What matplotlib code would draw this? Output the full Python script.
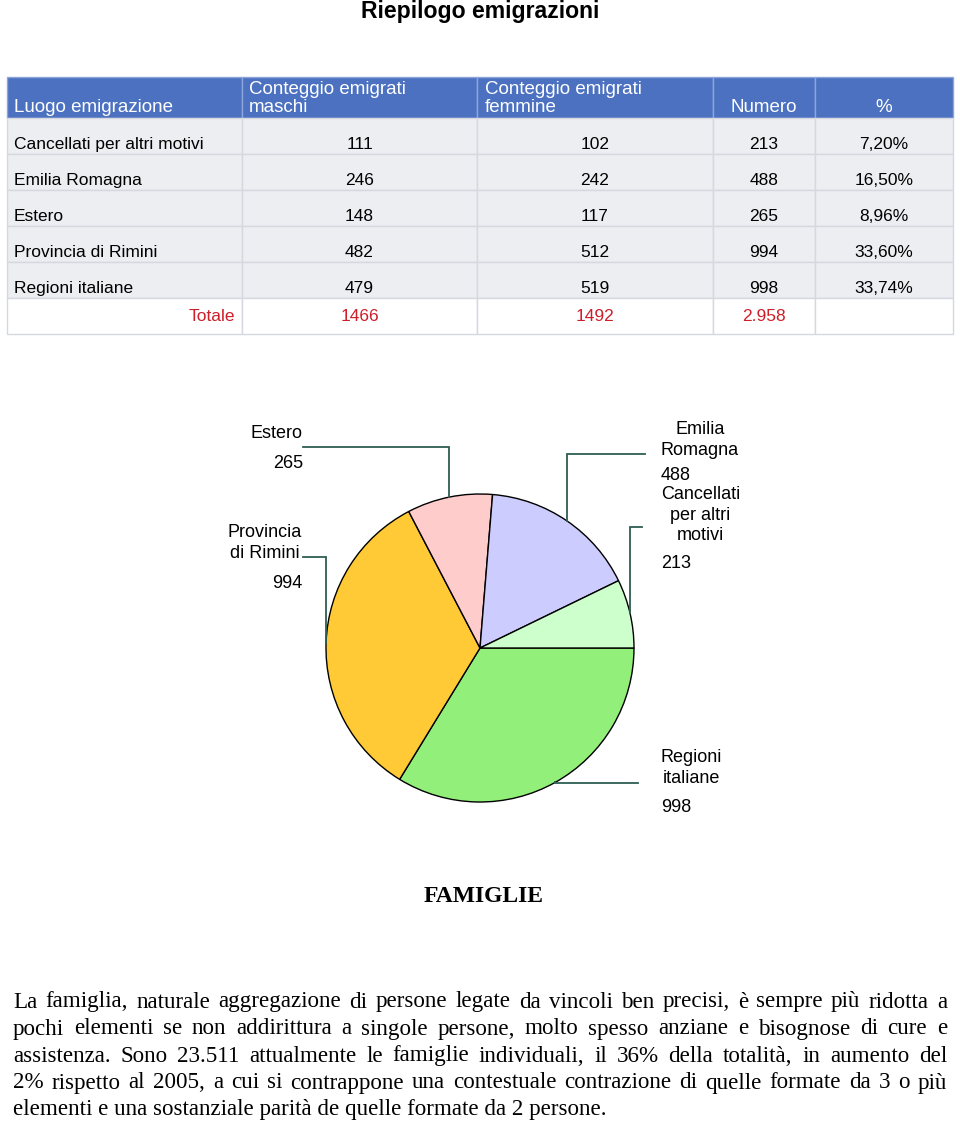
import matplotlib
matplotlib.use("Agg")
import matplotlib.pyplot as plt
from matplotlib.patches import Rectangle
import numpy as np

# ---------------- data ----------------
title = "Riepilogo emigrazioni"
header = ["Luogo emigrazione", "Conteggio emigrati\nmaschi", "Conteggio emigrati\nfemmine", "Numero", "%"]
luoghi = ["Cancellati per altri motivi", "Emilia Romagna", "Estero", "Provincia di Rimini", "Regioni italiane"]
maschi = [111, 246, 148, 482, 479]
femmine = [102, 242, 117, 512, 519]
numero = [213, 488, 265, 994, 998]
percent = ["7,20%", "16,50%", "8,96%", "33,60%", "33,74%"]
totale_label = "Totale"
totale = ["1466", "1492", "2.958"]

pie_labels = ["Regioni\nitaliane", "Provincia\ndi Rimini", "Estero", "Emilia\nRomagna", "Cancellati\nper altri\nmotivi"]
pie_values = [998, 994, 265, 488, 213]
pie_colors = ["#92F07A", "#FFCA35", "#FFCCCC", "#CCCCFF", "#CCFFCC"]

section_title = "FAMIGLIE"
paragraph_lines = [
    "La famiglia, naturale aggregazione di persone legate da vincoli ben precisi, è sempre più ridotta a",
    "pochi elementi se non addirittura a singole persone, molto spesso anziane e bisognose di cure e",
    "assistenza. Sono 23.511 attualmente le famiglie individuali,  il 36% della totalità, in aumento del",
    "2%  rispetto al 2005, a cui si contrappone una contestuale contrazione di quelle formate da 3 o più",
    "elementi e una sostanziale parità de quelle formate da 2 persone.",
]

# ---------------- figure ----------------
W, H = 960, 1123
fig = plt.figure(figsize=(W / 100, H / 100), dpi=100)
fig.patch.set_facecolor("white")

# pie axes
R = 154
cx, cy = 480, 648
box = 330
ax_pie = fig.add_axes([(cx - box / 2) / W, (H - cy - box / 2) / H, box / W, box / H])
wedges, _ = ax_pie.pie(pie_values, colors=pie_colors, startangle=0, counterclock=False,
                       radius=1.0, wedgeprops=dict(edgecolor="black", linewidth=1.0))
lim = (box / 2) / R
ax_pie.set_xlim(-lim, lim)
ax_pie.set_ylim(-lim, lim)
ax_pie.set_aspect("equal")
ax_pie.axis("off")

# overlay axes in pixel coordinates
ax = fig.add_axes([0, 0, 1, 1], zorder=5)
ax.set_xlim(0, W)
ax.set_ylim(H, 0)
ax.axis("off")
ax.patch.set_alpha(0)

sans = "Liberation Sans"
serif = "Liberation Serif"

# title
ax.text(480, 11.5, title, ha="center", va="center", fontsize=16.6, fontweight="bold", family=sans)

# ---------------- table ----------------
col_edges = [7, 242, 477, 713, 815, 953]
header_top, header_bot = 77, 118
row_h = 36
blue = "#4C71C0"
gray = "#EDEEF2"
edge_gray = "#D6D8DF"
red = "#CC1F2A"

for i in range(5):
    ax.add_patch(Rectangle((col_edges[i], header_top), col_edges[i + 1] - col_edges[i],
                           header_bot - header_top, facecolor=blue, edgecolor="#8EA5DA", lw=1.0))
hdr_fs = 13.5
ax.text(14, 108, header[0], ha="left", va="center", color="white", fontsize=hdr_fs, family=sans)
ax.text(249, 98.5, header[1], ha="left", va="center", color="white", fontsize=hdr_fs, family=sans,
        linespacing=1.12)
ax.text(485, 98.5, header[2], ha="left", va="center", color="white", fontsize=hdr_fs, family=sans,
        linespacing=1.12)
ax.text((col_edges[3] + col_edges[4]) / 2, 108, header[3], ha="center", va="center", color="white",
        fontsize=hdr_fs, family=sans)
ax.text((col_edges[4] + col_edges[5]) / 2, 108, header[4], ha="center", va="center", color="white",
        fontsize=hdr_fs, family=sans)

data_fs = 12.5
centers = [(col_edges[k] + col_edges[k + 1]) / 2 for k in range(5)]
for r in range(len(luoghi)):
    top = header_bot + r * row_h
    for i in range(5):
        ax.add_patch(Rectangle((col_edges[i], top), col_edges[i + 1] - col_edges[i], row_h,
                               facecolor=gray, edgecolor=edge_gray, lw=1.0))
    yc = top + 26.5
    ax.text(14, yc, luoghi[r], ha="left", va="center", fontsize=data_fs, family=sans)
    ax.text(centers[1], yc, str(maschi[r]), ha="center", va="center", fontsize=data_fs, family=sans)
    ax.text(centers[2], yc, str(femmine[r]), ha="center", va="center", fontsize=data_fs, family=sans)
    ax.text(centers[3], yc, str(numero[r]), ha="center", va="center", fontsize=data_fs, family=sans)
    ax.text(centers[4], yc, percent[r], ha="center", va="center", fontsize=data_fs, family=sans)

top = header_bot + len(luoghi) * row_h
for i in range(5):
    ax.add_patch(Rectangle((col_edges[i], top), col_edges[i + 1] - col_edges[i], row_h,
                           facecolor="white", edgecolor=edge_gray, lw=1.0))
yc = top + 18.5
ax.text(235, yc, totale_label, ha="right", va="center", fontsize=data_fs, family=sans, color=red)
for k, v in enumerate(totale):
    ax.text(centers[k + 1], yc, v, ha="center", va="center", fontsize=data_fs, family=sans, color=red)

# ---------------- pie labels & leader lines ----------------
fig.canvas.draw()
ax_pie.apply_aspect()
# layout: (name x, name y, ha, number y, leader y, leader end x)
label_layout = [
    (661, 768, "left", 808, 783, 638),
    (302, 543, "right", 583, 557, 303),
    (303, 433, "right", 463, 447, 303),
    (661, 440, "left", 476, 454, 645),
    (661, 515, "left", 564, 527, 642),
]
leader_color = "#2E5E52"
inv = ax.transData.inverted()
for w, lab, val, lay in zip(wedges, pie_labels, pie_values, label_layout):
    nx, ny, ha, numy, ly, lend = lay
    mid = np.deg2rad((w.theta1 + w.theta2) / 2)
    disp = ax_pie.transData.transform((np.cos(mid), np.sin(mid)))
    ex, ey = inv.transform(disp)
    ax.plot([ex, ex, lend], [ey, ly, ly], color=leader_color, lw=1.3, solid_joinstyle="miter")
    ax.text(nx, ny, lab, ha=ha, va="center", multialignment="center", fontsize=13,
            family=sans, linespacing=1.3)
    ax.text(nx, numy, str(val), ha=ha, va="center", fontsize=13, family=sans)

# ---------------- FAMIGLIE section ----------------
ax.text(484, 896, section_title, ha="center", va="center", fontsize=17, fontweight="bold", family=serif)

par_fs = 16.6
x0, x1 = 13, 947
line_y0, line_dy = 1002, 27
renderer = fig.canvas.get_renderer()
for li, line in enumerate(paragraph_lines):
    y = line_y0 + li * line_dy
    if li == len(paragraph_lines) - 1:
        ax.text(x0, y, line, ha="left", va="center", fontsize=par_fs, family=serif)
        continue
    words = line.split()
    texts = [ax.text(0, y, wd, ha="left", va="center", fontsize=par_fs, family=serif) for wd in words]
    widths = []
    for t in texts:
        bb = t.get_window_extent(renderer=renderer)
        widths.append(bb.width)
    gap = ((x1 - x0) - sum(widths)) / (len(words) - 1)
    x = x0
    for t, wdt in zip(texts, widths):
        t.set_x(x)
        x += wdt + gap

fig.savefig("out.png", dpi=100, facecolor="white")
